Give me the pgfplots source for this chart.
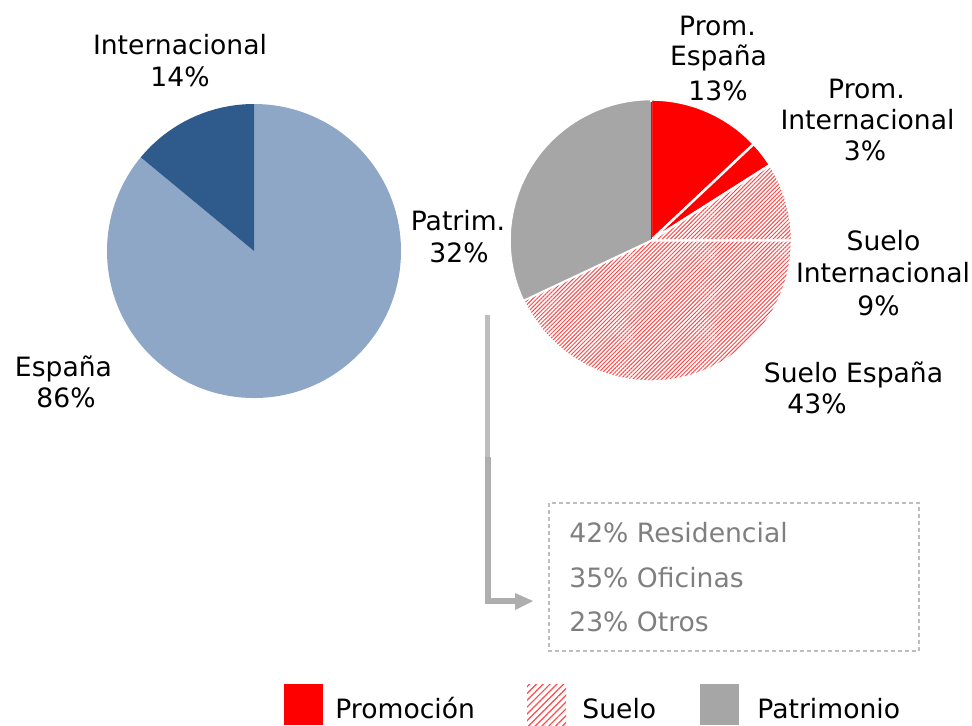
\documentclass[border=0pt]{standalone}
\usepackage{fontspec}
\setmainfont{DejaVu Sans}
\usepackage{pgfplots}
\usepackage{pgfplotstable}
\pgfplotsset{compat=1.18}
\usetikzlibrary{patterns.meta}

\definecolor{azulosc}{HTML}{2E5A8C}
\definecolor{azulcla}{HTML}{8EA7C7}
\definecolor{rojo}{HTML}{FF0000}
\definecolor{rojotrama}{HTML}{FF4848}
\definecolor{gris}{HTML}{A6A6A6}
\definecolor{grisflecha}{HTML}{AEAEAE}
\definecolor{grisclaro}{HTML}{BDBDBD}
\definecolor{gristexto}{HTML}{7F7F7F}

% ventas por area (%), en sentido horario desde las 12
\pgfplotstableread{
tramo pct
Espana 86
Internacional 14
}\ventasizq

\pgfplotstableread{
tramo pct
PromEspana 13
PromInternacional 3
SueloInternacional 9
SueloEspana 43
Patrimonio 32
}\ventasdcha

\tikzset{
  suelo/.style={pattern={Lines[angle=45,distance=1.45pt,line width=0.5pt]},pattern color=rojotrama},
  izq0/.style={fill=azulcla},
  izq1/.style={fill=azulosc},
  dcha0/.style={fill=rojo,draw=white,line width=1.2pt},
  dcha1/.style={fill=rojo,draw=white,line width=1.2pt},
  dcha2/.style={suelo,draw=white,line width=1.2pt},
  dcha3/.style={suelo,draw=white,line width=1.2pt},
  dcha4/.style={fill=gris,draw=white,line width=0.8pt},
  lab/.style={anchor=base,inner sep=0pt,font=\fontsize{13.3}{16}\selectfont},
}

% #1 tabla, #2 prefijo de estilo, #3 cx, #4 cy, #5 radio
\newcommand\tarta[5]{%
  \pgfplotstablegetrowsof{#1}%
  \pgfmathtruncatemacro\ultima{\pgfplotsretval-1}%
  \def\acum{0}%
  \pgfplotsforeachungrouped \i in {0,...,\ultima}{%
    \pgfplotstablegetelem{\i}{pct}\of{#1}%
    \pgfmathsetmacro\ini{90-3.6*\acum}%
    \pgfmathsetmacro\acum{\acum+\pgfplotsretval}%
    \pgfmathsetmacro\fin{90-3.6*\acum}%
    \edef\porcion{\noexpand\path[#2\i] (axis cs:#3,#4) -- ++(\ini:#5)
      arc[start angle=\ini, end angle=\fin, radius=#5] -- cycle;}%
    \porcion
  }}

\begin{document}
\begin{tikzpicture}
\begin{axis}[width=486pt,height=362.5pt,scale only axis,
  xmin=0,xmax=972,ymin=0,ymax=725,y dir=reverse,
  hide axis,clip=false]
\path (axis cs:0,0) rectangle (axis cs:972,725);

\tarta{\ventasizq}{izq}{254}{251}{73.5pt}
\tarta{\ventasdcha}{dcha}{651}{240.5}{70.5pt}
% sin linea blanca entre Patrimonio y Prom. Espana
\fill[gris] (axis cs:650.2,102) rectangle (axis cs:651,240);
\fill[rojo] (axis cs:651,102) rectangle (axis cs:651.8,239);

% etiquetas
\node[lab] at (axis cs:180,54) {Internacional};
\node[lab] at (axis cs:180,86) {14\%};
\node[lab] at (axis cs:63.5,376) {España};
\node[lab] at (axis cs:66,407) {86\%};
\node[lab] at (axis cs:717.5,35) {Prom.};
\node[lab] at (axis cs:718.5,65) {España};
\node[lab] at (axis cs:718,100) {13\%};
\node[lab] at (axis cs:866.5,98) {Prom.};
\node[lab] at (axis cs:867.5,129) {Internacional};
\node[lab] at (axis cs:865,160) {3\%};
\node[lab] at (axis cs:883.5,250) {Suelo};
\node[lab] at (axis cs:883,282) {Internacional};
\node[lab] at (axis cs:878.5,315) {9\%};
\node[lab] at (axis cs:853.5,382) {Suelo España};
\node[lab] at (axis cs:817,413) {43\%};
\node[lab] at (axis cs:458,230) {Patrim.};
\node[lab] at (axis cs:459,262) {32\%};

% flecha hacia el desglose de patrimonio
\draw[grisclaro,line width=2.5pt] (axis cs:487.5,315) -- (axis cs:487.5,458);
\draw[grisflecha,line width=3pt,line join=miter] (axis cs:487.5,457) -- (axis cs:487.5,601) -- (axis cs:516,601);
\fill[grisflecha] (axis cs:515,593) -- (axis cs:533,601) -- (axis cs:515,610) -- cycle;
\draw[grisclaro,line width=0.6pt,dash pattern=on 2pt off 1.5pt] (axis cs:549,503) rectangle (axis cs:919,651);
\node[lab,anchor=base west,text=gristexto] at (axis cs:569,542) {42\% Residencial};
\node[lab,anchor=base west,text=gristexto] at (axis cs:569,587) {35\% Oficinas};
\node[lab,anchor=base west,text=gristexto] at (axis cs:569,631) {23\% Otros};

% leyenda
\fill[rojo] (axis cs:284,684) rectangle (axis cs:323,725);
\node[lab,anchor=base west] at (axis cs:335,718) {Promoción};
\path[pattern={Lines[angle=45,distance=2.4pt,line width=0.6pt]},pattern color=rojotrama] (axis cs:527,684) rectangle (axis cs:566,725);
\node[lab,anchor=base west] at (axis cs:582,718) {Suelo};
\fill[gris] (axis cs:700,684) rectangle (axis cs:739,725);
\node[lab,anchor=base west] at (axis cs:757,718) {Patrimonio};
\end{axis}
\end{tikzpicture}
\end{document}
